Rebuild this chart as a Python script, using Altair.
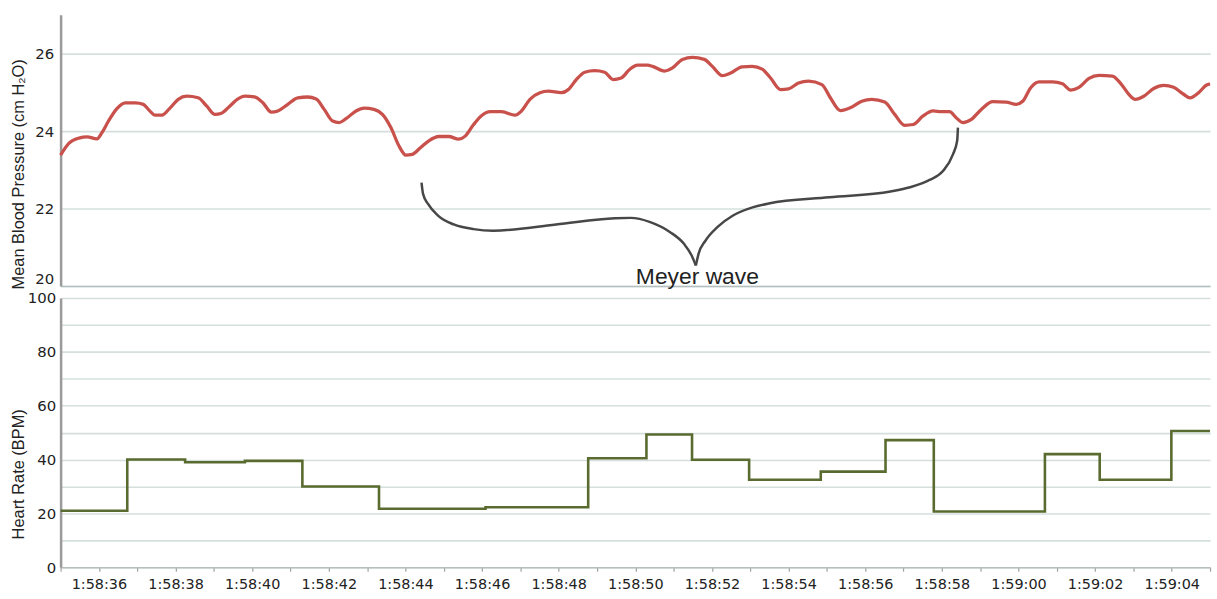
import altair as alt
import pandas as pd

# ---------------- data ----------------
# time in seconds after 1:58:00
BP_TIME = [35.00, 35.22, 35.48, 35.69, 35.95, 36.08, 36.25, 36.47, 36.69, 36.95,
           37.16, 37.29, 37.47, 37.64, 37.86, 38.07, 38.29, 38.59, 38.81, 39.03,
           39.20, 39.42, 39.63, 39.81, 40.06, 40.28, 40.50, 40.67, 40.93, 41.19,
           41.45, 41.67, 41.88, 42.10, 42.27, 42.45, 42.71, 42.92, 43.18, 43.40,
           43.62, 43.83, 44.01, 44.18, 44.39, 44.61, 44.87, 45.13, 45.39, 45.56,
           45.78, 46.00, 46.21, 46.51, 46.86, 47.03, 47.25, 47.51, 47.73, 48.07,
           48.25, 48.46, 48.68, 48.94, 49.20, 49.42, 49.63, 49.85, 50.06, 50.32,
           50.45, 50.76, 50.97, 51.23, 51.49, 51.80, 52.01, 52.27, 52.49, 52.79,
           53.05, 53.31, 53.53, 53.79, 54.00, 54.26, 54.52, 54.87, 55.09, 55.35,
           55.61, 55.91, 56.17, 56.51, 56.77, 57.03, 57.25, 57.51, 57.77, 57.99,
           58.20, 58.38, 58.55, 58.77, 59.03, 59.33, 59.68, 59.94, 60.11, 60.32,
           60.54, 60.89, 61.15, 61.36, 61.58, 61.84, 62.10, 62.45, 62.66, 62.88,
           63.05, 63.27, 63.53, 63.79, 64.05, 64.31, 64.48, 64.70, 64.91, 65.00]
BP_VALUE = [23.38, 23.69, 23.82, 23.85, 23.80, 23.96, 24.26, 24.58, 24.73, 24.73,
            24.69, 24.56, 24.41, 24.41, 24.60, 24.82, 24.90, 24.86, 24.65, 24.43,
            24.46, 24.65, 24.83, 24.90, 24.88, 24.73, 24.49, 24.52, 24.69, 24.86,
            24.88, 24.83, 24.56, 24.26, 24.22, 24.32, 24.52, 24.59, 24.56, 24.43,
            24.09, 23.62, 23.38, 23.40, 23.57, 23.75, 23.86, 23.86, 23.79, 23.87,
            24.17, 24.41, 24.50, 24.50, 24.41, 24.52, 24.82, 24.99, 25.03, 24.99,
            25.07, 25.33, 25.52, 25.56, 25.52, 25.33, 25.37, 25.59, 25.70, 25.70,
            25.67, 25.55, 25.63, 25.85, 25.90, 25.85, 25.67, 25.43, 25.50, 25.66,
            25.67, 25.60, 25.37, 25.07, 25.09, 25.24, 25.29, 25.20, 24.86, 24.53,
            24.60, 24.77, 24.82, 24.75, 24.43, 24.15, 24.17, 24.39, 24.52, 24.50,
            24.50, 24.34, 24.22, 24.30, 24.56, 24.76, 24.75, 24.69, 24.77, 25.12,
            25.27, 25.27, 25.22, 25.06, 25.13, 25.36, 25.44, 25.42, 25.24, 24.95,
            24.82, 24.90, 25.10, 25.18, 25.13, 24.95, 24.86, 24.99, 25.19, 25.22]

HR_TIME = [35.00, 36.74, 38.25, 39.81, 41.31, 43.31, 46.09, 48.77, 50.29,
           51.48, 52.97, 54.84, 56.53, 57.79, 60.69, 62.12, 63.99, 65.00]
HR_VALUE = [21.0, 40.0, 39.0, 39.5, 30.0, 21.7, 22.3, 40.5, 49.3,
            39.9, 32.5, 35.5, 47.2, 20.7, 42.0, 32.5, 50.6, 50.6]

# curly bracket annotation (two arms meeting at the tip)
BRACE_LEFT_T = [44.42, 44.46, 44.59, 44.85, 45.26, 45.78, 46.29, 47.93, 49.47,
                49.88, 50.39, 50.91, 51.27, 51.47, 51.58]
BRACE_LEFT_V = [22.67, 22.38, 22.12, 21.82, 21.59, 21.47, 21.43, 21.59, 21.75,
                21.76, 21.65, 21.39, 21.09, 20.79, 20.53]
BRACE_RIGHT_T = [51.58, 51.65, 51.83, 52.14, 52.55, 53.06, 53.48, 55.06, 56.66,
                 57.17, 57.68, 58.03, 58.29, 58.40, 58.42]
BRACE_RIGHT_V = [20.53, 20.83, 21.17, 21.52, 21.82, 22.03, 22.13, 22.29, 22.44,
                 22.55, 22.74, 22.97, 23.40, 23.75, 24.09]
ANNOT_TEXT = ["Meyer wave"]
ANNOT_T = [51.62]
ANNOT_V = [20.06]

X_TICKS = list(range(35, 66))
X_LABEL_SECONDS = [36, 38, 40, 42, 44, 46, 48, 50, 52, 54, 56, 58, 60, 62, 64]
X_LABELS = ["1:58:36", "1:58:38", "1:58:40", "1:58:42", "1:58:44", "1:58:46",
            "1:58:48", "1:58:50", "1:58:52", "1:58:54", "1:58:56", "1:58:58",
            "1:59:00", "1:59:02", "1:59:04"]
BP_TICKS = [20, 21, 22, 23, 24, 25, 26, 27]
HR_TICKS = [0, 10, 20, 30, 40, 50, 60, 70, 80, 90, 100]

# ---------------- frames ----------------
bp_df = pd.DataFrame({"t": BP_TIME, "v": BP_VALUE})
hr_df = pd.DataFrame({"t": HR_TIME, "v": HR_VALUE})
brace_df = pd.DataFrame({
    "t": BRACE_LEFT_T + BRACE_RIGHT_T,
    "v": BRACE_LEFT_V + BRACE_RIGHT_V,
    "arm": ["L"] * len(BRACE_LEFT_T) + ["R"] * len(BRACE_RIGHT_T),
})
annot_df = pd.DataFrame({"t": ANNOT_T, "v": ANNOT_V, "txt": ANNOT_TEXT})

sec_arr = "[" + ",".join(str(s) for s in X_LABEL_SECONDS) + "]"
lab_arr = "[" + ",".join("'" + s + "'" for s in X_LABELS) + "]"
x_label_expr = f"indexof({sec_arr}, datum.value) >= 0 ? {lab_arr}[indexof({sec_arr}, datum.value)] : ''"

W = 1157
X_DOMAIN = [35, 65]

AX_FONT = "DejaVu Sans"
TITLE_FONT = "Liberation Sans"
GRID = "#d5e0de"

x_top = alt.X("t:Q", scale=alt.Scale(domain=X_DOMAIN, nice=False, zero=False),
              axis=alt.Axis(title=None, labels=False, ticks=False, grid=False,
                            domain=True, domainColor="#b5bfbf", domainWidth=1.5,
                            values=X_TICKS, minExtent=0, maxExtent=0))

y_bp_axis = alt.Axis(title="Mean Blood Pressure (cm H\u2082O)", values=BP_TICKS,
                     labelExpr="datum.value % 2 == 0 ? datum.label : ''",
                     labelFlush=True,
                     grid=True, gridColor=GRID, gridWidth=1.6, ticks=False,
                     domainColor="#9a9a9a", domainWidth=2.5, labelPadding=7,
                     labelFontSize=15,
                     titleAngle=270, titleX=-42, titleY=160, titleAlign="center",
                     titleBaseline="middle")

bp_line = alt.Chart(bp_df).mark_line(color="#c9514c", strokeWidth=3.3,
                                     interpolate="monotone").encode(
    x=x_top,
    y=alt.Y("v:Q", scale=alt.Scale(domain=[20, 27], nice=False, zero=False),
            axis=y_bp_axis),
)

brace = alt.Chart(brace_df).mark_line(color="#474747", strokeWidth=2.5,
                                      interpolate="monotone").encode(
    x="t:Q", y="v:Q", detail="arm:N", order="t:Q")

annot = alt.Chart(annot_df).mark_text(font="Liberation Sans", fontSize=23,
                                      color="#222222", baseline="alphabetic",
                                      align="center").encode(
    x="t:Q", y="v:Q", text="txt:N")

top = alt.layer(bp_line, brace, annot).properties(width=W, height=273)

x_bottom = alt.X("t:Q", scale=alt.Scale(domain=X_DOMAIN, nice=False, zero=False),
                 axis=alt.Axis(title=None, values=X_TICKS, labelExpr=x_label_expr,
                               grid=False, ticks=True, tickColor="#a0a0a0",
                               tickSize=4, tickWidth=1.2, labelPadding=6,
                               domainColor="#b5bfbf", domainWidth=1.5,
                               labelFontSize=14.5, labelOverlap=False))

y_hr_axis = alt.Axis(title="Heart Rate (BPM)", values=HR_TICKS,
                     labelExpr="datum.value % 20 == 0 ? datum.label : ''",
                     grid=True, gridColor=GRID, gridWidth=1.6, ticks=False,
                     domainColor="#9a9a9a", domainWidth=2.5, labelPadding=5,
                     labelFontSize=15,
                     titleAngle=270, titleX=-42, titleY=177, titleAlign="center",
                     titleBaseline="middle")

hr_line = alt.Chart(hr_df).mark_line(color="#5a6b30", strokeWidth=2.6,
                                     interpolate="step-after").encode(
    x=x_bottom,
    y=alt.Y("v:Q", scale=alt.Scale(domain=[0, 100], nice=False, zero=False),
            axis=y_hr_axis),
).properties(width=W, height=271)

chart = alt.vconcat(top, hr_line, spacing=2).properties(
    padding={"left": 11, "top": 13, "right": 0, "bottom": 0},
    background="white",
).configure_view(strokeWidth=0).configure_axis(
    labelFont=AX_FONT, labelFontSize=14, labelColor="#222222",
    titleFont=TITLE_FONT, titleFontSize=16.5, titleFontWeight="normal",
    titleColor="#222222",
)

chart.save("out.html", embed_options={"renderer": "svg", "actions": False})
